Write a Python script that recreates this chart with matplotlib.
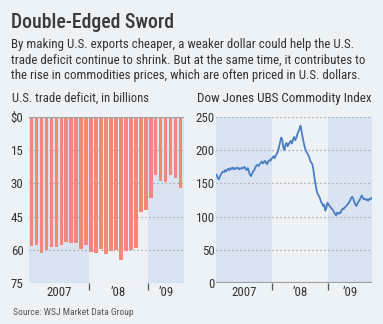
import matplotlib
matplotlib.use('Agg')
import matplotlib.pyplot as plt
import matplotlib.dates as mdates
from matplotlib import font_manager
import numpy as np
import pandas as pd

# monthly U.S. trade deficit, Jan 2007 - Jul 2009, billions of dollars
deficit = [58.4, 57.7, 61.4, 60.0, 58.9, 58.6, 57.7, 56.5, 57.1, 56.9, 59.5, 57.7,
           61.1, 61.4, 59.5, 61.9, 60.4, 60.0, 64.7, 60.7, 60.1, 59.3, 43.1, 41.9,
           36.6, 26.4, 29.1, 29.3, 26.4, 27.6, 32.1]
deficit_ticks = [0, 15, 30, 45, 60, 75]
deficit_ticklabels = ['$0', '15', '30', '45', '60', '75']

# Dow Jones UBS Commodity Index, weekly closes from the first week of 2007
index_2007 = [163, 158, 156, 160, 164, 166, 168, 167, 170, 168, 171, 172, 170,
              173, 172, 174, 171, 173, 172, 174, 173, 171, 173, 172, 174, 173,
              175, 172, 170, 173, 168, 163, 161, 165, 168, 170, 174, 177, 178,
              176, 179, 181, 183, 180, 182, 184, 181, 179, 183, 185, 184, 187]
index_2008 = [189, 191, 188, 192, 195, 198, 205, 212, 219, 216, 204, 200, 208,
              211, 206, 209, 212, 214, 210, 216, 220, 215, 218, 224, 228, 232,
              237, 228, 219, 211, 204, 199, 196, 193, 190, 184, 181, 179, 170,
              158, 148, 139, 134, 131, 128, 122, 120, 116, 118, 109, 113, 121]
index_2009 = [118, 116, 114, 112, 110, 107, 104, 102, 106, 104, 106, 105, 109,
              112, 111, 114, 115, 117, 119, 121, 124, 128, 130, 127, 122, 118,
              116, 120, 123, 125, 129, 132, 128, 126, 127, 125, 126, 124, 127,
              126, 128]
index_ticks = [0, 50, 100, 150, 200, 250]

BG = '#edf2f6'
SHADE = '#dae3f2'
BAR = '#f3877a'
LINE = '#4a7fc3'
GRID = '#9a9a9a'
TEXT = '#333333'

W, H = 383, 324

# narrow sans if one is around, otherwise a regular one
fonts = font_manager.fontManager.ttflist
family, stretch = 'Open Sans', 'normal'
for name, st in [('Liberation Sans Narrow', None), ('Roboto Condensed', None),
                 ('Open Sans Condensed', None), ('Noto Sans', 'condensed'),
                 ('DejaVu Sans', 'condensed')]:
    if any(f.name == name and (st is None or f.stretch == st) for f in fonts):
        family, stretch = name, (st or 'normal')
        break
plt.rcParams['font.family'] = [family, 'DejaVu Sans']
plt.rcParams['font.stretch'] = stretch

fig = plt.figure(figsize=(W / 100, H / 100), dpi=100, facecolor=BG)
renderer = fig.canvas.get_renderer()


def at(x, y):
    return x / W, 1 - y / H


def text(x, y, s, width, **kw):
    # place at pixel position and scale the font so the text spans `width` pixels
    t = fig.text(*at(x, y), s, va='baseline', color=kw.pop('color', TEXT), fontsize=10, **kw)
    t.set_fontsize(10 * width / t.get_window_extent(renderer).width)
    return t


text(11, 27.5, 'Double-Edged Sword', 162, weight='medium', color='#3a3a3a')
subtitle = ['By making U.S. exports cheaper, a weaker dollar could help the U.S.',
            'trade deficit continue to shrink. But at the same time, it contributes to',
            'the rise in commodities prices, which are often priced in U.S. dollars.']
body = text(11, 48.3, subtitle[0], 340).get_fontsize()
for i, line in enumerate(subtitle[1:], 1):
    fig.text(*at(11, 48.3 + 15.2 * i), line, va='baseline', color=TEXT, fontsize=body)
text(11.5, 101.7, 'U.S. trade deficit, in billions', 136)
text(197, 101.7, 'Dow Jones UBS Commodity Index', 174)
text(13, 315, 'Source: WSJ Market Data Group', 119, color='#555555')

# left panel: trade deficit bars hanging from zero
ax1 = fig.add_axes([29 / W, 1 - 283 / H, 155 / W, 166 / H], facecolor=BG)
months = np.arange(len(deficit))
x0, x1 = -0.5, len(deficit) - 0.3
ax1.axvspan(x0, 11.5, color=SHADE, lw=0, zorder=0)
ax1.axvspan(23.5, x1, color=SHADE, lw=0, zorder=0)
for t in deficit_ticks[1:]:
    ax1.axhline(t, color=GRID, lw=0.9, ls=(0, (1, 2.2)), zorder=1)
ax1.bar(months, deficit, width=0.72, color=BAR, lw=0, zorder=2)
ax1.axhline(0, color='#a0a0a0', lw=1.6, zorder=3)
ax1.set_xlim(x0, x1)
ax1.set_ylim(75, 0)
ax1.set_yticks(deficit_ticks)
ax1.set_yticklabels(deficit_ticklabels)
ax1.set_xticks([11.5, 23.5])
ax1.set_xticklabels([])
ax1.tick_params(axis='x', length=5, width=0.9, color='#555555', direction='out')
ax1.tick_params(axis='y', length=0, pad=4, labelsize=body, labelcolor=TEXT)
for s in ax1.spines.values():
    s.set_visible(False)
for xc, lab in [(5.5, '2007'), (17.5, '\u201908'), ((23.5 + x1) / 2, '\u201909')]:
    ax1.annotate(lab, xy=(xc, 0), xycoords=ax1.get_xaxis_transform(),
                 xytext=(0, -13), textcoords='offset pixels', ha='center',
                 va='baseline', fontsize=body, color=TEXT)

# right panel: weekly commodity index
values = index_2007 + index_2008 + index_2009
dates = pd.date_range('2007-01-05', periods=len(values), freq='W-FRI')
ax2 = fig.add_axes([216 / W, 1 - 283 / H, 156 / W, 166 / H], facecolor=BG)
start, end = pd.Timestamp('2007-01-01'), pd.Timestamp('2009-10-12')
y08, y09 = pd.Timestamp('2008-01-01'), pd.Timestamp('2009-01-01')
ax2.axvspan(start, y08, color=SHADE, lw=0, zorder=0)
ax2.axvspan(y09, end, color=SHADE, lw=0, zorder=0)
for t in index_ticks[1:]:
    ax2.axhline(t, color=GRID, lw=0.9, ls=(0, (1, 2.2)), zorder=1)
ax2.plot(dates, values, color=LINE, lw=1.3, zorder=2)
ax2.axhline(0, color='#a0a0a0', lw=1.6, zorder=3)
ax2.set_xlim(start, end)
ax2.set_ylim(0, 250)
ax2.set_yticks(index_ticks)
ax2.set_xticks([y08, y09])
ax2.set_xticklabels([])
ax2.tick_params(axis='x', length=5, width=0.9, color='#555555', direction='out')
ax2.tick_params(axis='y', length=0, pad=1, labelsize=body, labelcolor=TEXT)
for s in ax2.spines.values():
    s.set_visible(False)
for xc, lab in [('2007-07-02', '2007'), ('2008-07-02', '\u201908'), ('2009-05-22', '\u201909')]:
    ax2.annotate(lab, xy=(mdates.date2num(pd.Timestamp(xc)), 0),
                 xycoords=ax2.get_xaxis_transform(),
                 xytext=(0, -13), textcoords='offset pixels', ha='center',
                 va='baseline', fontsize=body, color=TEXT)

fig.savefig('out.png', dpi=100, facecolor=BG)
